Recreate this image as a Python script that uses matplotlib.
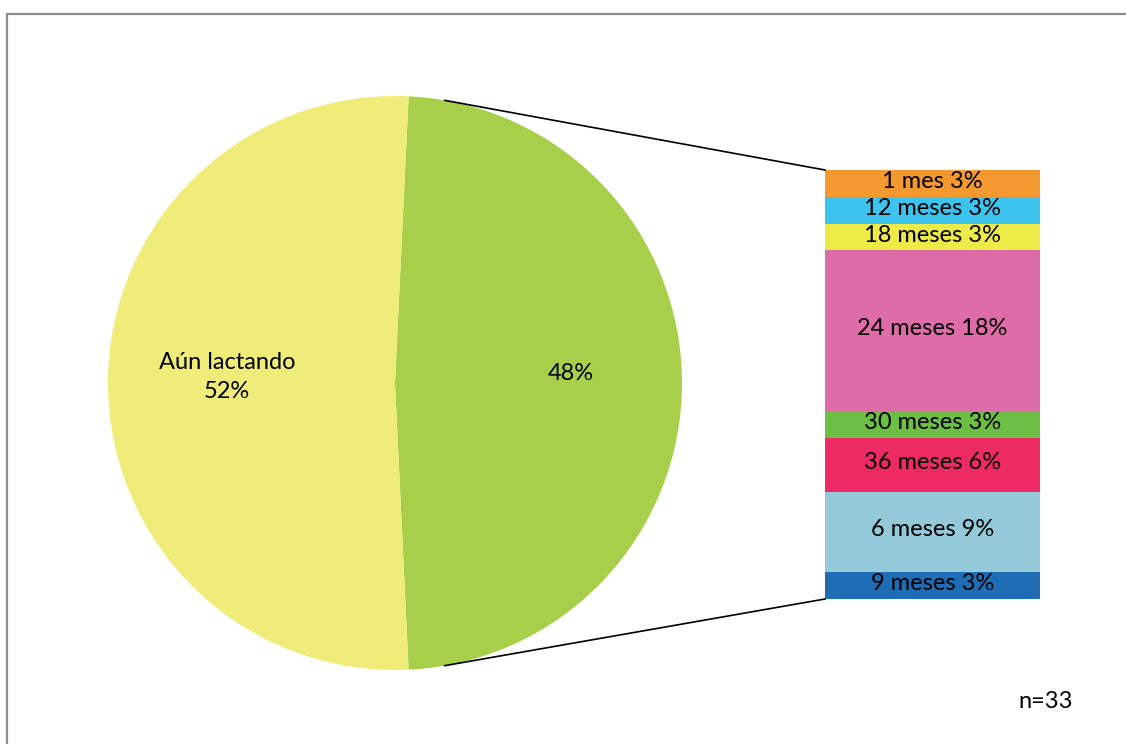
import numpy as np
import matplotlib
matplotlib.use("Agg")
import matplotlib.pyplot as plt
from matplotlib.patches import Rectangle

# Main split
pie_labels = ["Aún lactando", ""]
pie_counts = [17, 16]
pie_colors = ["#F0EC7A", "#A8CF4A"]

# Breakdown of the weaned group (top to bottom)
bar_labels = ["1 mes", "12 meses", "18 meses", "24 meses", "30 meses", "36 meses", "6 meses", "9 meses"]
bar_counts = [1, 1, 1, 6, 1, 2, 3, 1]
bar_colors = ["#F4992F", "#3CC3EE", "#EEEA48", "#DE6CA8", "#6CBE45", "#EE2A64", "#93C9D8", "#1E6DB5"]

n_total = sum(pie_counts)

plt.rcParams["font.family"] = ["Lato", "DejaVu Sans"]
FS = 17

W, H = 1126, 744
fig = plt.figure(figsize=(W / 100, H / 100), dpi=100)
ax = fig.add_axes([0, 0, 1, 1])

# Pie: weaned wedge centred on the right side
cx, cy, r = 395, 361, 287
half = 180 * pie_counts[1] / n_total
ax.pie(
    [pie_counts[1], pie_counts[0]],
    colors=[pie_colors[1], pie_colors[0]],
    startangle=half,
    counterclock=False,
    center=(cx, cy),
    radius=r,
    wedgeprops=dict(linewidth=0),
    frame=True,
)
ax.set_xlim(0, W)
ax.set_ylim(0, H)
ax.set_aspect("equal")
ax.axis("off")

pct = [round(100 * c / n_total) for c in pie_counts]
ax.text(227, 367, f"{pie_labels[0]}\n{pct[0]}%", ha="center", va="center",
        fontsize=FS, linespacing=1.45)
ax.text(571, 370, f"{pct[1]}%", ha="center", va="center", fontsize=FS)

# Stacked bar of the weaned group
bx, bw = 932.5, 215
bar_top, bar_bottom = 574, 145
unit = (bar_top - bar_bottom) / sum(bar_counts)
y = bar_top
for lab, c, col in zip(bar_labels, bar_counts, bar_colors):
    h = c * unit
    ax.bar(bx, -h, bottom=y, width=bw, color=col, linewidth=0)
    p = round(100 * c / n_total)
    ax.text(bx, y - h / 2 + 2, f"{lab} {p}%", ha="center", va="center", fontsize=FS)
    y -= h

# Connector lines from the pie edge to the bar corners
ang = np.deg2rad(80)
ax.plot([cx + r * np.cos(ang), bx - bw / 2], [cy + r * np.sin(ang), bar_top],
        color="black", lw=1.2)
ax.plot([cx + r * np.cos(ang), bx - bw / 2], [cy - r * np.sin(ang), bar_bottom],
        color="black", lw=1.2)

ax.text(1018, 42, f"n={n_total}", ha="left", va="center", fontsize=FS)

# Chart frame
fig.patches.append(Rectangle((7 / W, -0.1), 1.2, (H - 14) / H + 0.1,
                             transform=fig.transFigure, fill=False,
                             edgecolor="#8C8C8C", linewidth=1.6))

fig.savefig("out.png", dpi=100, facecolor="white")
